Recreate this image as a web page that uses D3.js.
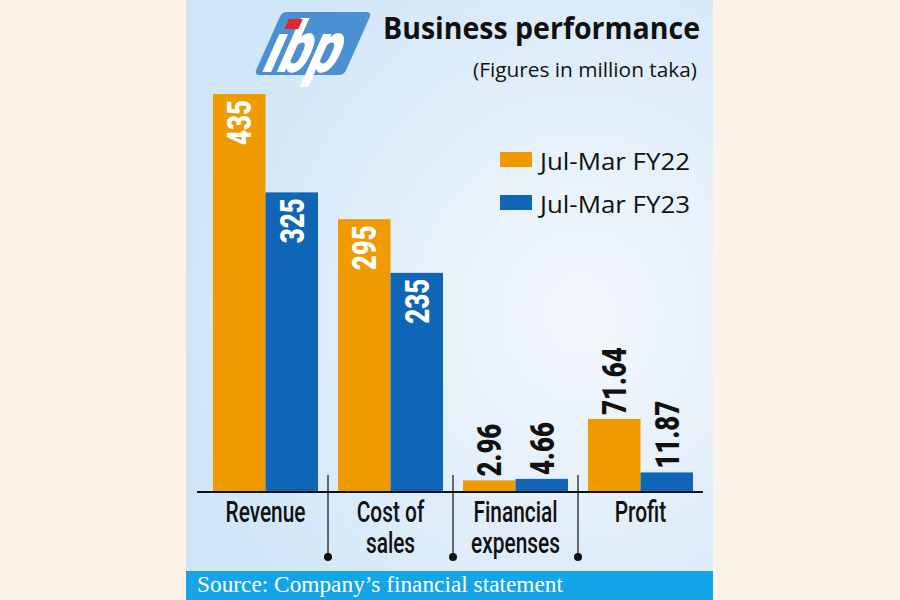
<!DOCTYPE html>
<html>
<head>
<meta charset="utf-8">
<script src="https://cdn.jsdelivr.net/npm/d3@7"></script>
<style>
  html, body { margin: 0; padding: 0; background: #fdf2e7; }
  svg { display: block; }
</style>
</head>
<body>
<div id="chart"></div>
<script>
// Business performance chart (IBP), figures in million taka
const categories = ["Revenue", "Cost of sales", "Financial expenses", "Profit"]
const categoryLines = [["Revenue"], ["Cost of", "sales"], ["Financial", "expenses"], ["Profit"]]
const seriesNames = ["Jul-Mar FY22", "Jul-Mar FY23"]
const fy22 = [435, 295, 2.96, 71.64]
const fy23 = [325, 235, 4.66, 11.87]
const valueLabels22 = ["435", "295", "2.96", "71.64"]
const valueLabels23 = ["325", "235", "4.66", "11.87"]

const W = 900, H = 600
const orange = "#ef9b00", blue = "#0f66b6"
// no condensed face installed, so Roboto gets squeezed horizontally
const cond = "Roboto, 'Noto Sans', sans-serif"
const humanist = "'Open Sans', 'Noto Sans', sans-serif"

const svg = d3.select("#chart").append("svg")
  .attr("width", W).attr("height", H)

// Panel background
const defs = svg.append("defs")
const grad = defs.append("radialGradient")
  .attr("id", "panel-bg")
  .attr("cx", "75%").attr("cy", "55%").attr("r", "75%")
grad.append("stop").attr("offset", "0%").attr("stop-color", "#f4f8fc")
grad.append("stop").attr("offset", "100%").attr("stop-color", "#d1e6f7")

svg.append("rect").attr("x", 186).attr("y", 0).attr("width", 527).attr("height", 571)
  .attr("fill", "url(#panel-bg)")

// Source strip
svg.append("rect").attr("x", 186).attr("y", 571).attr("width", 527).attr("height", 29)
  .attr("fill", "#13a5e6")
svg.append("text").attr("x", 197).attr("y", 592)
  .attr("font-family", "'Liberation Serif', 'DejaVu Serif', serif")
  .attr("font-size", 23).attr("fill", "#fff")
  .attr("textLength", 366).attr("lengthAdjust", "spacingAndGlyphs")
  .text("Source: Company\u2019s financial statement")

// Logo: slanted blue tile, white letters, red dot on the i
const logo = svg.append("g").attr("transform", "translate(282,12)")
logo.append("rect").attr("width", 90).attr("height", 63).attr("rx", 5)
  .attr("fill", "#4b91d2").attr("transform", "skewX(-24)")
logo.append("text").attr("x", 4).attr("y", 60)
  .attr("font-family", cond).attr("font-weight", "900")
  .attr("font-size", 72).attr("fill", "#fff")
  .attr("textLength", 74).attr("lengthAdjust", "spacingAndGlyphs")
  .attr("transform", "skewX(-24)")
  .text("\u0131bp")
logo.append("rect").attr("x", 10).attr("y", 7).attr("width", 14).attr("height", 10)
  .attr("fill", "#e3262c").attr("transform", "skewX(-24)")

// Title
svg.append("text").attr("x", 383).attr("y", 39)
  .attr("font-family", humanist).attr("font-weight", "bold")
  .attr("font-size", 30).attr("fill", "#111")
  .attr("textLength", 317).attr("lengthAdjust", "spacingAndGlyphs")
  .text("Business performance")
svg.append("text").attr("x", 697).attr("y", 77).attr("text-anchor", "end")
  .attr("font-family", humanist).attr("font-size", 20).attr("fill", "#111")
  .attr("textLength", 224).attr("lengthAdjust", "spacingAndGlyphs")
  .text("(Figures in million taka)")

// Scales
const x = d3.scaleBand().domain(categories).range([203, 703])
  .paddingInner(0.16).paddingOuter(0.08)
const xs = d3.scaleBand().domain(seriesNames).range([0, x.bandwidth()])
const y = d3.scaleLinear().domain([-10, 435]).range([492, 94])
const color = d3.scaleOrdinal().domain(seriesNames).range([orange, blue])

const rows = categories.map((c, i) => ({
  cat: c,
  values: [
    { s: seriesNames[0], v: fy22[i], label: valueLabels22[i] },
    { s: seriesNames[1], v: fy23[i], label: valueLabels23[i] }
  ]
}))

const groups = svg.append("g").selectAll("g").data(rows).join("g")
  .attr("transform", d => `translate(${x(d.cat)},0)`)

groups.selectAll("rect").data(d => d.values).join("rect")
  .attr("x", d => xs(d.s))
  .attr("y", d => y(d.v))
  .attr("width", xs.bandwidth())
  .attr("height", d => y.range()[0] - y(d.v))
  .attr("fill", d => color(d.s))

// Value labels: inside (white) for tall bars, above (black) for short ones
const inside = d => d.v > 100
groups.selectAll("text.val").data(d => d.values).join("text")
  .attr("class", "val")
  .attr("transform", d => {
    const cx = xs(d.s) + xs.bandwidth() / 2
    const cy = inside(d) ? y(d.v) + 6 : y(d.v) - 4
    return `translate(${cx},${cy}) rotate(-90) scale(0.76,1)`
  })
  .attr("text-anchor", d => inside(d) ? "end" : "start")
  .attr("dy", "0.36em")
  .attr("font-family", cond).attr("font-weight", 900)
  .attr("font-size", 34)
  .attr("fill", d => inside(d) ? "#fff" : "#111")
  .text(d => d.label)

// Baseline
svg.append("line").attr("x1", 197).attr("x2", 703)
  .attr("y1", y.range()[0]).attr("y2", y.range()[0])
  .attr("stroke", "#111").attr("stroke-width", 2)

// Category labels
const step = x.step()
svg.append("g").selectAll("text").data(categories).join("text")
  .attr("transform", d => `translate(${x(d) + x.bandwidth() / 2},522) scale(0.72,1)`)
  .attr("text-anchor", "middle")
  .attr("font-family", cond).attr("font-weight", 500)
  .attr("font-size", 29).attr("fill", "#111")
  .selectAll("tspan").data((d, i) => categoryLines[i]).join("tspan")
  .attr("x", 0)
  .attr("dy", (d, i) => i === 0 ? 0 : 31)
  .text(d => d)

// Separators with dots
const seps = categories.slice(1).map(c => x(c) - step * x.paddingInner() / 2)
const sepG = svg.append("g").selectAll("g").data(seps).join("g")
sepG.append("line")
  .attr("x1", d => d).attr("x2", d => d)
  .attr("y1", 475).attr("y2", 557)
  .attr("stroke", "#111").attr("stroke-width", 1.2)
sepG.append("circle").attr("cx", d => d).attr("cy", 557).attr("r", 4).attr("fill", "#111")

// Legend
const legend = svg.append("g").selectAll("g").data(seriesNames).join("g")
  .attr("transform", (d, i) => `translate(500,${152 + i * 43})`)
legend.append("rect").attr("width", 32).attr("height", 15).attr("fill", d => color(d))
legend.append("text").attr("x", 40).attr("y", 18)
  .attr("font-family", humanist).attr("font-size", 24).attr("fill", "#111")
  .attr("textLength", 150).attr("lengthAdjust", "spacingAndGlyphs")
  .text(d => d)
</script>
</body>
</html>
